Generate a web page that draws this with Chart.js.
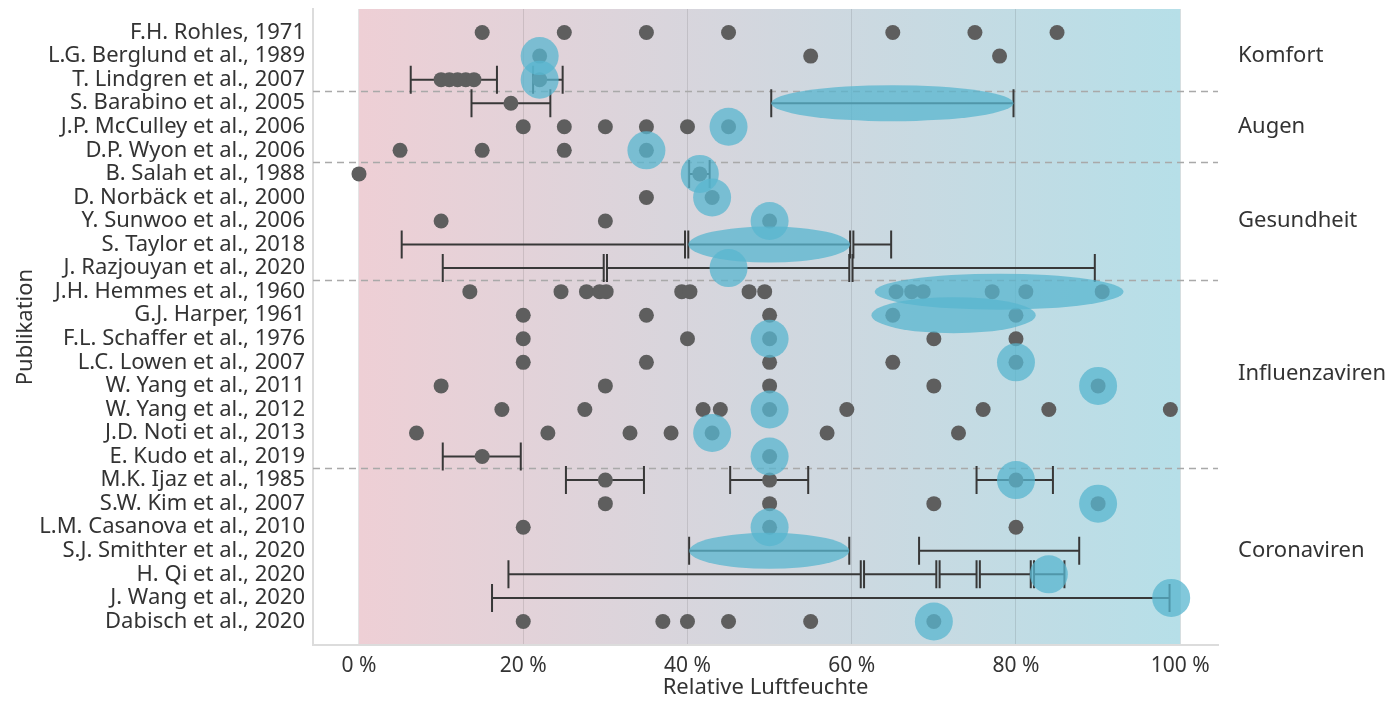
<!DOCTYPE html>
<html>
<head>
<meta charset="UTF-8">
<title>Relative Luftfeuchte</title>
<script src="https://cdn.jsdelivr.net/npm/chart.js"></script>
<style>
  html, body { margin: 0; padding: 0; background: #fff; }
  #wrap { width: 1391px; height: 701px; position: relative; }
</style>
</head>
<body>
<div id="wrap"><canvas id="chart"></canvas></div>
<script>
const publications = [
  'F.H. Rohles, 1971', 'L.G. Berglund et al., 1989', 'T. Lindgren et al., 2007',
  'S. Barabino et al., 2005', 'J.P. McCulley et al., 2006', 'D.P. Wyon et al., 2006',
  'B. Salah et al., 1988', 'D. Norbäck et al., 2000', 'Y. Sunwoo et al., 2006',
  'S. Taylor et al., 2018', 'J. Razjouyan et al., 2020', 'J.H. Hemmes et al., 1960',
  'G.J. Harper, 1961', 'F.L. Schaffer et al., 1976', 'L.C. Lowen et al., 2007',
  'W. Yang et al., 2011', 'W. Yang et al., 2012', 'J.D. Noti et al., 2013',
  'E. Kudo et al., 2019', 'M.K. Ijaz et al., 1985', 'S.W. Kim et al., 2007',
  'L.M. Casanova et al., 2010', 'S.J. Smithter et al., 2020', 'H. Qi et al., 2020',
  'J. Wang et al., 2020', 'Dabisch et al., 2020'
];

// untersuchte Luftfeuchten je Publikation (% rF)
const measured = [
  [15, 25, 35, 45, 65, 75, 85],
  [22, 55, 78],
  [10, 11, 12, 13, 14, 22],
  [18.5],
  [20, 25, 30, 35, 40, 45],
  [5, 15, 25, 35],
  [0, 41.5],
  [35, 43],
  [10, 30, 50],
  [],
  [],
  [13.5, 24.6, 27.7, 29.3, 30.1, 39.3, 40.3, 47.5, 49.4, 65.4, 67.3, 68.7, 77.1, 81.2, 90.5],
  [20, 35, 50, 65, 80],
  [20, 40, 50, 70, 80],
  [20, 35, 50, 65, 80],
  [10, 30, 50, 70, 90],
  [17.4, 27.5, 41.9, 44, 50, 59.4, 76, 84, 98.8],
  [7, 23, 33, 38, 43, 57, 73],
  [15, 50],
  [30, 50, 80],
  [30, 50, 70, 90],
  [20, 50, 80],
  [],
  [],
  [],
  [20, 37, 40, 45, 55, 70]
];

// optimaler Wert je Publikation (null = keiner)
const optimum = [
  null, 22, 22, null, 45, 35, 41.5, 43, 50, null, 45, null, null,
  50, 80, 90, 50, 43, 50, 80, 90, 50, null, 84, 98.9, 70
];

// untersuchte Bereiche [von, bis] je Publikation
const ranges = [
  [], [], [[6.3, 16.8], [21.2, 24.8]], [[13.7, 23.3], [50.2, 79.7]], [], [],
  [[40.2, 42.7]], [], [], [[5.2, 39.7], [40.1, 59.8], [60.2, 64.8]],
  [[10.2, 29.8], [30.2, 59.7], [60.1, 89.6]], [], [], [], [], [], [], [],
  [[10.2, 19.7]], [[25.2, 34.7], [45.2, 54.7], [75.2, 84.5]], [], [],
  [[40.2, 59.7], [68.2, 87.7]],
  [[18.2, 61.1], [61.5, 70.3], [70.7, 75.2], [75.6, 81.8], [82.2, 85.9]],
  [[16.2, 98.7]], []
];

// optimaler Bereich [zeile, von, bis]
const optimumRanges = [
  [3, 50.2, 79.7], [9, 40.1, 59.8], [11, 62.8, 93.1], [12, 62.4, 82.4], [22, 40.2, 59.7]
];

const groups = ['Komfort', 'Augen', 'Gesundheit', 'Influenzaviren', 'Coronaviren'];
const groupCenters = [1, 4, 8, 14.5, 22];
const groupBreaks = [2.5, 5.5, 10.5, 18.5];

const xTicks = [0, 20, 40, 60, 80, 100];
const xTickLabels = ['0 %', '20 %', '40 %', '60 %', '80 %', '100 %'];

const FONT = '"Noto Sans", "Open Sans", sans-serif';
const BLUE = 'rgba(88, 182, 207, 0.75)';

const dotData = [];
measured.forEach((vals, row) => vals.forEach(v => dotData.push({ x: v, y: row })));
const optData = [];
optimum.forEach((v, row) => { if (v !== null) optData.push({ x: v, y: row }); });

const backdrop = {
  id: 'backdrop',
  beforeDraw(chart) {
    const { ctx, chartArea, scales: { x } } = chart;
    const x0 = x.getPixelForValue(0), x1 = x.getPixelForValue(100);
    const g = ctx.createLinearGradient(x0, 0, x1, 0);
    g.addColorStop(0, 'rgb(238, 207, 213)');
    g.addColorStop(1, 'rgb(182, 223, 232)');
    ctx.save();
    ctx.fillStyle = g;
    ctx.fillRect(x0, chartArea.top, x1 - x0, chartArea.bottom - chartArea.top);
    ctx.restore();
  },
  beforeDatasetsDraw(chart) {
    const { ctx, chartArea, scales: { x, y } } = chart;
    ctx.save();
    // Trennlinien zwischen Gruppen
    ctx.strokeStyle = '#a9a9a9';
    ctx.lineWidth = 1.5;
    ctx.setLineDash([7, 5]);
    groupBreaks.forEach(b => {
      const py = Math.round(y.getPixelForValue(b)) + 0.5;
      ctx.beginPath();
      ctx.moveTo(chartArea.left, py);
      ctx.lineTo(chartArea.right, py);
      ctx.stroke();
    });
    ctx.setLineDash([]);
    // Bereiche
    ctx.strokeStyle = '#383838';
    ctx.lineWidth = 2;
    ranges.forEach((list, row) => {
      const py = y.getPixelForValue(row);
      list.forEach(([a, b]) => {
        const pa = x.getPixelForValue(a), pb = x.getPixelForValue(b);
        ctx.beginPath();
        ctx.moveTo(pa, py); ctx.lineTo(pb, py);
        ctx.moveTo(pa, py - 14); ctx.lineTo(pa, py + 14);
        ctx.moveTo(pb, py - 14); ctx.lineTo(pb, py + 14);
        ctx.stroke();
      });
    });
    ctx.restore();
  },
  afterDatasetsDraw(chart) {
    const { ctx, scales: { x, y } } = chart;
    ctx.save();
    ctx.fillStyle = BLUE;
    optimumRanges.forEach(([row, a, b]) => {
      const pa = x.getPixelForValue(a), pb = x.getPixelForValue(b);
      ctx.beginPath();
      ctx.ellipse((pa + pb) / 2, y.getPixelForValue(row), (pb - pa) / 2, 18, 0, 0, Math.PI * 2);
      ctx.fill();
    });
    ctx.restore();
  },
  afterDraw(chart) {
    const { ctx, chartArea, scales: { y } } = chart;
    ctx.save();
    ctx.font = '22px ' + FONT;
    ctx.fillStyle = '#333';
    ctx.textAlign = 'left';
    ctx.textBaseline = 'middle';
    groups.forEach((g, i) => ctx.fillText(g, chartArea.right + 20, y.getPixelForValue(groupCenters[i])));
    ctx.restore();
  }
};

new Chart(document.getElementById('chart'), {
  type: 'scatter',
  data: {
    datasets: [
      { label: 'Optimum', data: optData, pointRadius: 19, pointBackgroundColor: BLUE, pointBorderWidth: 0 },
      { label: 'Messung', data: dotData, pointRadius: 7.5, pointBackgroundColor: '#5e5e5e', pointBorderWidth: 0 }
    ]
  },
  options: {
    responsive: true,
    maintainAspectRatio: false,
    animation: false,
    events: [],
    layout: { autoPadding: false, padding: { top: 9, right: 173, left: 0, bottom: 0 } },
    plugins: { legend: { display: false }, tooltip: { enabled: false } },
    scales: {
      x: {
        type: 'linear', min: -5.6, max: 104.6,
        afterBuildTicks: s => { s.ticks = xTicks.map(v => ({ value: v })); },
        afterFit: s => { s.height = 56; s.paddingLeft = 0; s.paddingRight = 0; },
        ticks: {
          color: '#333', padding: 8, font: { family: FONT, size: 21 },
          callback: v => xTickLabels[xTicks.indexOf(v)]
        },
        grid: { color: 'rgba(0,0,0,0.1)', lineWidth: 1, drawTicks: false },
        border: { color: '#dcdcdc', width: 2 },
        title: { display: true, text: 'Relative Luftfeuchte', color: '#333',
                 font: { family: FONT, size: 22 }, padding: { top: 0, bottom: 0 } }
      },
      y: {
        type: 'linear', min: -1, max: 26, reverse: true,
        afterBuildTicks: s => { s.ticks = publications.map((_, i) => ({ value: i })); },
        afterFit: s => { s.width = 313; s.paddingTop = 0; s.paddingBottom = 0; },
        ticks: {
          color: '#333', padding: 8, autoSkip: false, font: { family: FONT, size: 22 },
          callback: v => publications[v]
        },
        grid: { display: false, drawTicks: false },
        border: { color: '#dcdcdc', width: 2 },
        title: { display: true, text: 'Publikation', color: '#333',
                 font: { family: FONT, size: 22 }, padding: { top: 13, bottom: 0 } }
      }
    }
  },
  plugins: [backdrop]
});
</script>
</body>
</html>
